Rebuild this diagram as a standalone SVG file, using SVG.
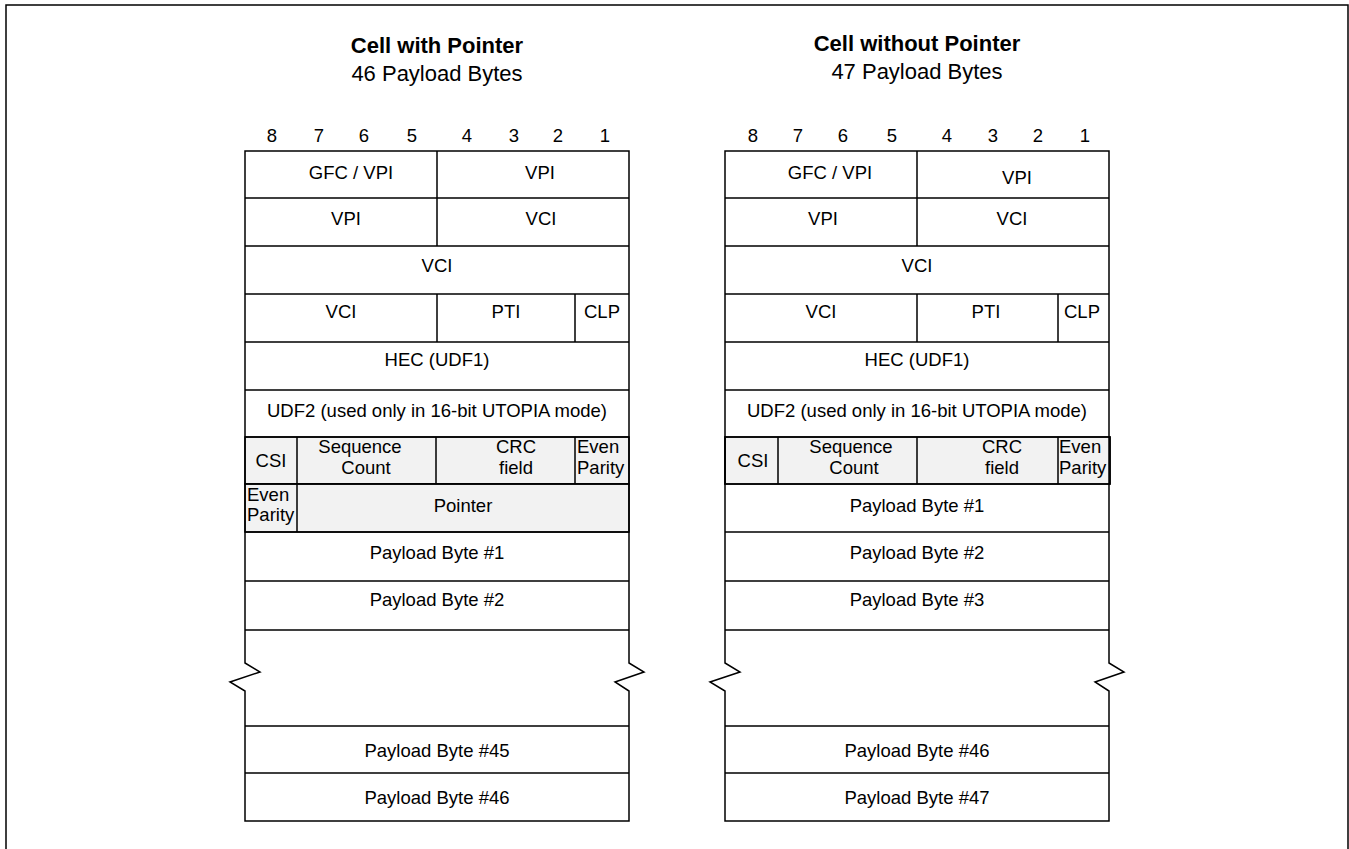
<svg xmlns="http://www.w3.org/2000/svg" width="1349" height="849" viewBox="0 0 1349 849">
<style>
text{font-family:"Liberation Sans",Arial,sans-serif;font-size:18.5px;fill:#000;text-anchor:middle}
.t{font-size:22px;font-weight:bold}
.s{font-size:22px}
.l{text-anchor:start}
.ln{stroke:#000;stroke-width:1.5;fill:none}
.g{fill:#f2f2f2;stroke:#000;stroke-width:1.5}
</style>
<g id="frame"><path class="ln" d="M6,849 V5 H1348 V849" stroke-width="2"/></g>
<g id="connectors"></g>

<g id="left-table">
  <g id="left-title"><text class="t" x="437" y="53">Cell with Pointer</text><text class="s" x="437" y="81">46 Payload Bytes</text></g>
  <g id="left-bits"><text x="272" y="142">8</text><text x="319" y="142">7</text><text x="364" y="142">6</text><text x="412" y="142">5</text><text x="467" y="142">4</text><text x="514" y="142">3</text><text x="558" y="142">2</text><text x="605" y="142">1</text></g>
  <g id="left-gray"><rect class="g" x="245" y="437" width="384" height="47"/><rect class="g" x="245" y="484" width="384" height="48"/></g>
  <g id="left-outline"><path class="ln" d="M245,663 V151 H629 V663 L644,672 L615,682 L629,691 V821 H245 V691 L230,682 L260,672 Z"/>
    <path class="ln" d="M245,198 H629 M245,246 H629 M245,294 H629 M245,342 H629 M245,390 H629 M245,437 H629 M245,484 H629 M245,532 H629 M245,581 H629 M245,630 H629 M245,726 H629 M245,773 H629 M437,151 V246 M437,294 V342 M575,294 V342 M297,437 V532 M436,437 V484 M575,437 V484"/></g>
  <g id="L-gfc"><text x="351" y="179">GFC / VPI</text></g>
  <g id="L-vpi1"><text x="540" y="179">VPI</text></g>
  <g id="L-vpi2"><text x="346" y="225">VPI</text></g>
  <g id="L-vci1"><text x="541" y="225">VCI</text></g>
  <g id="L-vci2"><text x="437" y="272">VCI</text></g>
  <g id="L-vci3"><text x="341" y="318">VCI</text></g>
  <g id="L-pti"><text x="506" y="318">PTI</text></g>
  <g id="L-clp"><text x="602" y="318">CLP</text></g>
  <g id="L-hec"><text x="437" y="366">HEC (UDF1)</text></g>
  <g id="L-udf2"><text x="437" y="417">UDF2 (used only in 16-bit UTOPIA mode)</text></g>
  <g id="L-csi"><text x="271" y="467">CSI</text></g>
  <g id="L-seq"><text x="360" y="453">Sequence</text><text x="366" y="474">Count</text></g>
  <g id="L-crc"><text x="516" y="453">CRC</text><text x="516" y="474">field</text></g>
  <g id="L-ep1"><text class="l" x="577" y="453">Even</text><text class="l" x="577" y="474">Parity</text></g>
  <g id="L-ep2"><text class="l" x="247" y="501">Even</text><text class="l" x="247" y="521">Parity</text></g>
  <g id="L-ptr"><text x="463" y="512">Pointer</text></g>
  <g id="L-p1"><text x="437" y="559">Payload Byte #1</text></g>
  <g id="L-p2"><text x="437" y="606">Payload Byte #2</text></g>
  <g id="L-p45"><text x="437" y="757">Payload Byte #45</text></g>
  <g id="L-p46"><text x="437" y="804">Payload Byte #46</text></g>
</g>

<g id="right-table">
  <g id="right-title"><text class="t" x="917" y="51">Cell without Pointer</text><text class="s" x="917" y="79">47 Payload Bytes</text></g>
  <g id="right-bits"><text x="753" y="142">8</text><text x="798" y="142">7</text><text x="843" y="142">6</text><text x="892" y="142">5</text><text x="947" y="142">4</text><text x="993" y="142">3</text><text x="1038" y="142">2</text><text x="1085" y="142">1</text></g>
  <g id="right-gray"><rect class="g" x="725" y="437" width="385" height="47"/></g>
  <g id="right-outline"><path class="ln" d="M725,663 V151 H1109 V663 L1124,672 L1095,682 L1109,691 V821 H725 V691 L710,682 L740,672 Z"/>
    <path class="ln" d="M725,198 H1109 M725,246 H1109 M725,294 H1109 M725,342 H1109 M725,390 H1109 M725,532 H1109 M725,581 H1109 M725,630 H1109 M725,726 H1109 M725,773 H1109 M917,151 V246 M917,294 V342 M1058,294 V342 M778,437 V484 M917,437 V484 M1058,437 V484"/>
    <rect class="ln" x="725" y="437" width="385" height="47"/></g>
  <g id="R-gfc"><text x="830" y="179">GFC / VPI</text></g>
  <g id="R-vpi1"><text x="1017" y="184">VPI</text></g>
  <g id="R-vpi2"><text x="823" y="225">VPI</text></g>
  <g id="R-vci1"><text x="1012" y="225">VCI</text></g>
  <g id="R-vci2"><text x="917" y="272">VCI</text></g>
  <g id="R-vci3"><text x="821" y="318">VCI</text></g>
  <g id="R-pti"><text x="986" y="318">PTI</text></g>
  <g id="R-clp"><text x="1082" y="318">CLP</text></g>
  <g id="R-hec"><text x="917" y="366">HEC (UDF1)</text></g>
  <g id="R-udf2"><text x="917" y="417">UDF2 (used only in 16-bit UTOPIA mode)</text></g>
  <g id="R-csi"><text x="753" y="467">CSI</text></g>
  <g id="R-seq"><text x="851" y="453">Sequence</text><text x="854" y="474">Count</text></g>
  <g id="R-crc"><text x="1002" y="453">CRC</text><text x="1002" y="474">field</text></g>
  <g id="R-ep"><text class="l" x="1059" y="453">Even</text><text class="l" x="1059" y="474">Parity</text></g>
  <g id="R-p1"><text x="917" y="512">Payload Byte #1</text></g>
  <g id="R-p2"><text x="917" y="559">Payload Byte #2</text></g>
  <g id="R-p3"><text x="917" y="606">Payload Byte #3</text></g>
  <g id="R-p46"><text x="917" y="757">Payload Byte #46</text></g>
  <g id="R-p47"><text x="917" y="804">Payload Byte #47</text></g>
</g>
</svg>
